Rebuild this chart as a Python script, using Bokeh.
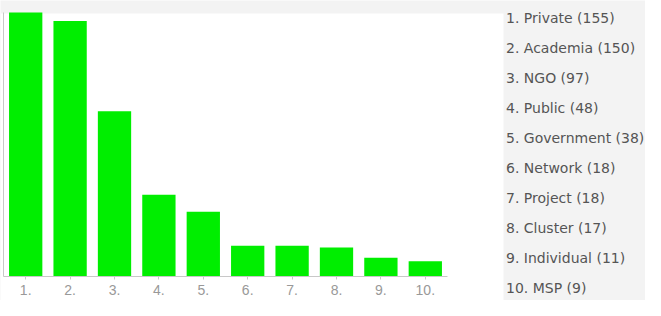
from bokeh.plotting import figure
from bokeh.models import FixedTicker, Range1d, Legend, LegendItem, BoxAnnotation
from bokeh.embed import file_html
from bokeh.resources import INLINE

# ---- data ----
ranks = [1, 2, 3, 4, 5, 6, 7, 8, 9, 10]
tick_labels = ["1.", "2.", "3.", "4.", "5.", "6.", "7.", "8.", "9.", "10."]
names = ["Private", "Academia", "NGO", "Public", "Government",
         "Network", "Project", "Cluster", "Individual", "MSP"]
counts = [155, 150, 97, 48, 38, 18, 18, 17, 11, 9]

# ---- layout helpers (pixels inside the figure) ----
W, H = 645, 300
axis_left_px = 3          # x of the left axis line
panel_right_px = 503      # right edge of the white chart panel
panel_top_px = 13         # top edge of the white panel
panel_bottom_px = 303     # bottom edge of the white panel
baseline_px = 276         # y of the bar baseline
bar_top_px = 12           # y reached by the tallest bar
px_per_cat = 44.4
ymax = max(counts)
px_per_unit = (baseline_px - bar_top_px) / ymax

x_start = (ranks[0] - 0.5) - axis_left_px / px_per_cat
x_end = x_start + W / px_per_cat
y_end = ymax + bar_top_px / px_per_unit
y_start = -(H - baseline_px) / px_per_unit

p = figure(width=W, height=H, output_backend="svg", toolbar_location=None,
           x_range=Range1d(x_start, x_end), y_range=Range1d(y_start, y_end),
           min_border_left=0, min_border_right=0,
           min_border_top=0, min_border_bottom=0)
p.border_fill_color = "#f3f3f3"
p.background_fill_color = "#f3f3f3"
p.outline_line_color = None
p.xgrid.visible = False
p.ygrid.visible = False

# white chart panel
panel = BoxAnnotation(left=x_start,
                      right=x_start + panel_right_px / px_per_cat,
                      top=ymax - (panel_top_px - bar_top_px) / px_per_unit,
                      bottom=-(panel_bottom_px - baseline_px) / px_per_unit,
                      fill_color="#ffffff", fill_alpha=1.0, line_color=None,
                      level="underlay")
p.add_layout(panel)

bars = p.vbar(x=ranks, top=counts, width=0.75, bottom=0,
              fill_color="#00ee00", line_color=None)

# x axis at the baseline
xa = p.xaxis[0]
xa.fixed_location = 0
xa.bounds = (ranks[0] - 0.5, ranks[-1] + 0.5)
xa.ticker = FixedTicker(ticks=ranks)
xa.major_label_overrides = {r: t for r, t in zip(ranks, tick_labels)}
xa.minor_tick_line_color = None
xa.major_tick_in = 0
xa.major_tick_out = 3
xa.major_tick_line_color = "#c8c8c8"
xa.axis_line_color = "#c8c8c8"
xa.major_label_standoff = 5
xa.major_label_text_color = "#999999"
xa.major_label_text_font = "Liberation Sans"
xa.major_label_text_font_size = "14px"

# y axis: just a line at the left of the first category
ya = p.yaxis[0]
ya.fixed_location = ranks[0] - 0.5
ya.bounds = (0, ymax)
ya.ticker = FixedTicker(ticks=[])
ya.minor_tick_line_color = None
ya.major_tick_line_color = None
ya.major_label_text_font_size = "0px"
ya.axis_line_color = "#c8c8c8"

# legend (text list on the right)
items = [LegendItem(label=f"{r}. {n} ({c})", renderers=[bars], index=i)
         for i, (r, n, c) in enumerate(zip(ranks, names, counts))]
legend = Legend(items=items, location=(506, 2), orientation="vertical",
                glyph_width=0, glyph_height=20, label_height=20,
                label_standoff=0, spacing=10, padding=0, margin=0,
                border_line_color=None, background_fill_alpha=0,
                label_text_font="DejaVu Sans", label_text_font_size="14px",
                label_text_color="#555555")
p.add_layout(legend, "center")

open("out.html", "w").write(file_html(p, INLINE))
